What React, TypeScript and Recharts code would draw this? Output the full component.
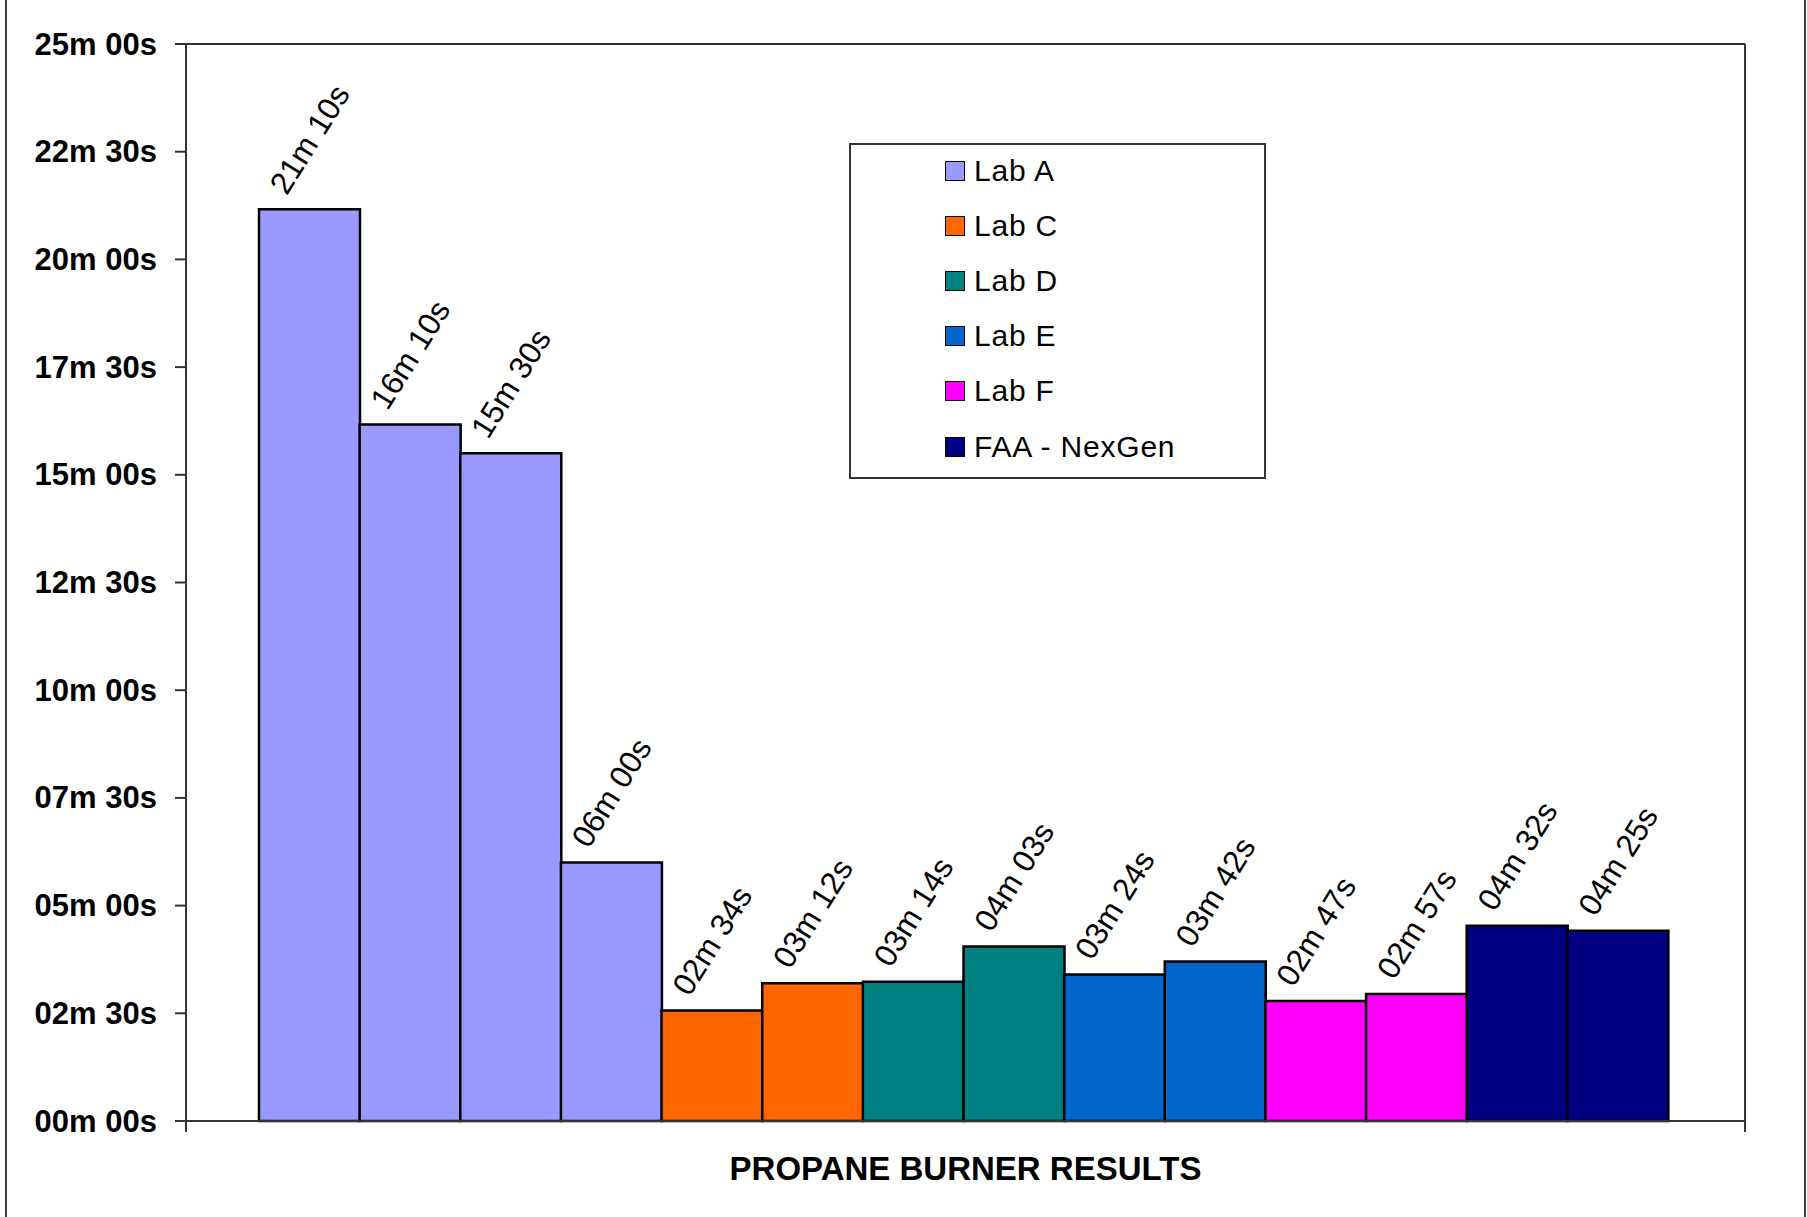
import {
  BarChart,
  Bar,
  XAxis,
  YAxis,
  Cell,
  LabelList,
  Legend,
  CartesianGrid,
} from "recharts";

const FONT = "'Liberation Sans', Arial, sans-serif";
const AXIS = "#333";

// legend entries
const labs = ["Lab A", "Lab C", "Lab D", "Lab E", "Lab F", "FAA - NexGen"];
const labColors = ["#9999FF", "#FF6600", "#008080", "#0066CC", "#FF00FF", "#000080"];

// one bar per test run, in chart order
const runLabs = [
  "Lab A", "Lab A", "Lab A", "Lab A",
  "Lab C", "Lab C",
  "Lab D", "Lab D",
  "Lab E", "Lab E",
  "Lab F", "Lab F",
  "FAA - NexGen", "FAA - NexGen",
];
// burn-through times, seconds
const runTimes = [1270, 970, 930, 360, 154, 192, 194, 243, 204, 222, 167, 177, 272, 265];

const yTicks = [0, 150, 300, 450, 600, 750, 900, 1050, 1200, 1350, 1500];

const PAD_L = 73;
const PAD_R = 77;
const TICK = 11;

const data = runTimes.map((t, i) => ({
  run: `${runLabs[i]} #${i + 1}`,
  lab: runLabs[i],
  time: t,
}));

const fmt = (v: number) => {
  const m = Math.floor(v / 60);
  const s = Math.round(v % 60);
  return `${String(m).padStart(2, "0")}m ${String(s).padStart(2, "0")}s`;
};

const colorOf = (lab: string) => labColors[labs.indexOf(lab)];

const RunLabel = (props: any) => {
  const { x, y, width, value } = props;
  const cx = Number(x) + Number(width) / 2;
  const cy = Number(y) - 70;
  return (
    <text
      x={cx}
      y={cy}
      transform={`rotate(-58, ${cx}, ${cy})`}
      textAnchor="middle"
      dominantBaseline="central"
      fontSize={31.5}
      fontFamily={FONT}
      fill="#000"
    >
      {fmt(Number(value))}
    </text>
  );
};

// y tick label; the zero tick also carries the little stub of the y axis below the x axis
const YTick = (props: any) => {
  const { x, y, payload } = props;
  return (
    <g>
      <text
        x={x}
        y={y}
        textAnchor="end"
        dominantBaseline="central"
        fontSize={31}
        fontWeight={700}
        fontFamily={FONT}
        fill="#000"
      >
        {fmt(payload.value)}
      </text>
      {payload.value === 0 && (
        <line x1={x + 29} x2={x + 29} y1={y} y2={y + TICK} stroke={AXIS} strokeWidth={2} />
      )}
    </g>
  );
};

// category axis: no labels, only the tick stub at the right end of the axis
const XTick = (props: any) => {
  const { x, y, payload, index, visibleTicksCount } = props;
  if (index !== visibleTicksCount - 1) return <g />;
  const edge = x + payload.offset + PAD_R;
  return <line x1={edge} x2={edge} y1={y} y2={y + TICK} stroke={AXIS} strokeWidth={2} />;
};

const LegendBox = () => (
  <div
    style={{
      width: 417,
      height: 336,
      boxSizing: "border-box",
      border: "2px solid #333",
      background: "#fff",
      position: "relative",
      fontFamily: FONT,
    }}
  >
    {labs.map((lab, i) => (
      <div
        key={lab}
        style={{
          position: "absolute",
          left: 94,
          top: 25.5 + i * 55.2 - 17,
          height: 34,
          display: "flex",
          alignItems: "center",
          whiteSpace: "nowrap",
        }}
      >
        <span
          style={{
            display: "inline-block",
            width: 20,
            height: 20,
            boxSizing: "border-box",
            border: "1.5px solid #000",
            background: labColors[i],
          }}
        />
        <span style={{ marginLeft: 9, fontSize: 30, letterSpacing: 0.8, color: "#000" }}>{lab}</span>
      </div>
    ))}
  </div>
);

export default function App() {
  return (
    <div style={{ position: "absolute", left: 0, top: 0, width: 1807, height: 1217, background: "#fff" }}>
      <div style={{ position: "absolute", left: 5, top: 0, width: 2, height: 1217, background: "#404040" }} />
      <div style={{ position: "absolute", left: 1804, top: 0, width: 2, height: 1217, background: "#404040" }} />
      <BarChart
        width={1807}
        height={1217}
        data={data}
        margin={{ top: 44, right: 62, bottom: 0, left: 0 }}
        barCategoryGap={0}
        barGap={0}
      >
        <CartesianGrid
          stroke={AXIS}
          strokeWidth={2}
          horizontalCoordinatesGenerator={({ offset }: any) => [offset.top]}
          verticalCoordinatesGenerator={({ offset }: any) => [offset.left + offset.width]}
        />
        <YAxis
          domain={[0, 1500]}
          ticks={yTicks}
          width={186}
          tickSize={TICK}
          tickMargin={18}
          axisLine={{ stroke: AXIS, strokeWidth: 2 }}
          tickLine={{ stroke: AXIS, strokeWidth: 2 }}
          tick={<YTick />}
          interval={0}
        />
        <XAxis
          dataKey="run"
          height={96}
          tickSize={0}
          tickMargin={0}
          tickLine={false}
          tick={<XTick />}
          interval={0}
          axisLine={{ stroke: AXIS, strokeWidth: 2 }}
          padding={{ left: PAD_L, right: PAD_R }}
          label={{
            value: "PROPANE BURNER RESULTS",
            position: "insideTop",
            offset: 36,
            fontSize: 33,
            fontWeight: 700,
            fontFamily: FONT,
            fill: "#000",
          }}
        />
        <Legend
          layout="vertical"
          align="center"
          verticalAlign="middle"
          content={<LegendBox />}
          wrapperStyle={{ left: 849, top: 143, width: 417 }}
        />
        <Bar dataKey="time" stroke="#000" strokeWidth={2.5} isAnimationActive={false}>
          {data.map((d) => (
            <Cell key={d.run} fill={colorOf(d.lab)} />
          ))}
          <LabelList dataKey="time" content={<RunLabel />} />
        </Bar>
      </BarChart>
    </div>
  );
}
